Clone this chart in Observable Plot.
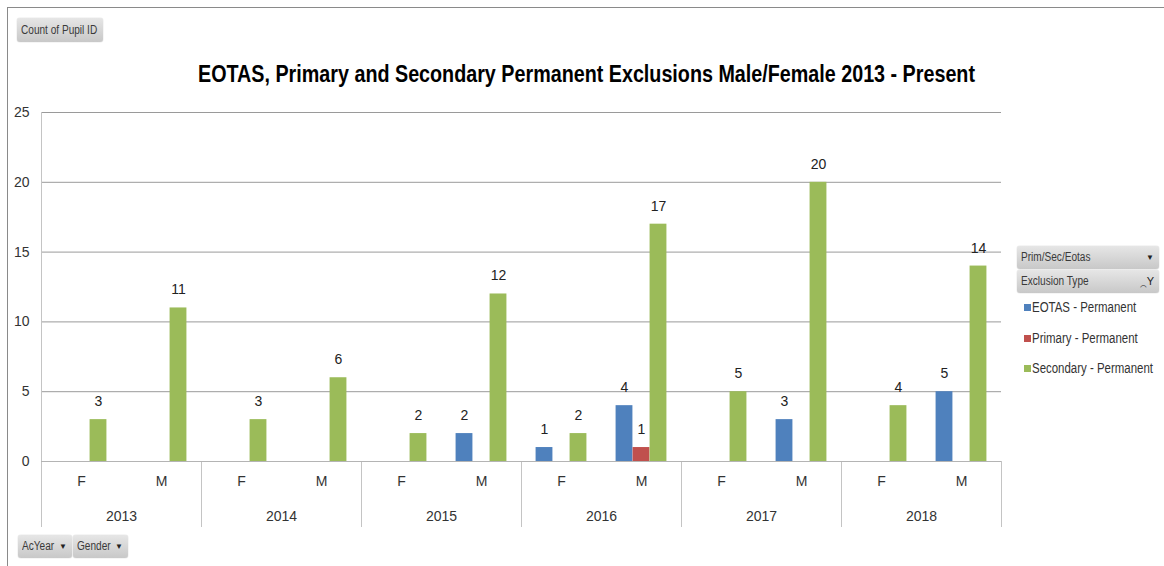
<!DOCTYPE html>
<html><head><meta charset="utf-8">
<script src="https://cdn.jsdelivr.net/npm/d3@7"></script>
<script src="https://cdn.jsdelivr.net/npm/@observablehq/plot@0.6"></script>
<style>
html,body{margin:0;padding:0;background:#fff;}
body{width:1164px;height:566px;overflow:hidden;position:relative;font-family:"Liberation Sans Narrow","Arial Narrow","Liberation Sans",sans-serif;color:#333;}
#border{position:absolute;left:7px;top:7px;width:1200px;height:600px;border-left:1.5px solid #8a8a8a;border-top:1.5px solid #8a8a8a;}
.btn{position:absolute;height:23px;line-height:23px;font-size:12px;color:#3a3a3a;background:linear-gradient(#e6e6e6,#c8c8c8);border-radius:3px;padding:0 4px;box-sizing:border-box;box-shadow:0 0 1px #9a9a9a;white-space:nowrap;}
.btn .t{display:inline-block;transform:scaleX(0.84);transform-origin:0 50%;}
.btn .dd{position:absolute;right:5px;top:0;font-size:8px;color:#222;}
#title{position:absolute;top:63px;left:198px;white-space:nowrap;font-weight:bold;font-size:23px;line-height:23px;color:#000;transform-origin:0 0;}
#chart{position:absolute;left:0;top:100px;}
.leg{position:absolute;left:1024px;font-size:14px;color:#333;white-space:nowrap;line-height:16px;}
.leg .t{display:inline-block;transform-origin:0 50%;}
.sw{display:inline-block;width:7px;height:7px;margin-right:1px;vertical-align:1px;}
</style>
</head>
<body>
<div id="border"></div>
<div class="btn" style="left:17px;top:18px;width:86px;height:24px;line-height:24px;"><span class="t">Count of Pupil ID</span></div>
<div id="title">EOTAS, Primary and Secondary Permanent Exclusions Male/Female 2013 - Present</div>
<div id="chart"></div>
<div class="btn" style="left:18px;top:535px;width:54px;"><span class="t">AcYear</span><span class="dd">▼</span></div>
<div class="btn" style="left:73px;top:535px;width:55px;"><span class="t">Gender</span><span class="dd">▼</span></div>
<div class="btn" style="left:1017px;top:246px;width:142px;"><span class="t">Prim/Sec/Eotas</span><span class="dd">▼</span></div>
<div class="btn" style="left:1017px;top:270px;width:142px;"><span class="t">Exclusion Type</span><span class="dd" style="font-size:11px;">⁔Y</span></div>
<div id="legend"></div>
<script>
// ---- data ----
const years = ["2013", "2014", "2015", "2016", "2017", "2018"];
const genders = ["F", "M"];
const series = ["EOTAS - Permanent", "Primary - Permanent", "Secondary - Permanent"];
const colors = ["#4F81BD", "#C0504D", "#9BBB59"];
// values per year, F then M
const eotas     = [null, null,  null, null,  null, 2,   1, 4,   null, 3,   null, 5];
const primary   = [null, null,  null, null,  null, null, null, 1, null, null, null, null];
const secondary = [3, 11,  3, 6,  2, 12,  2, 17,  5, 20,  4, 14];
const yTicks = [0, 5, 10, 15, 20, 25];

const seriesValues = [eotas, primary, secondary];
const rows = [];
years.forEach((yr, yi) => genders.forEach((g, gi) => {
  seriesValues.forEach((vals, si) => {
    const v = vals[yi * 2 + gi];
    if (v != null) rows.push({year: yr, gender: g, series: series[si], si, value: v});
  });
}));

// legend
const leg = document.getElementById("legend");
const legY = [299, 330, 360];
const legSpans = [];
series.forEach((s, i) => {
  const d = document.createElement("div");
  d.className = "leg";
  d.style.top = legY[i] + "px";
  d.innerHTML = `<span class="sw" style="background:${colors[i]}"></span><span class="t">${s}</span>`;
  leg.appendChild(d);
  legSpans.push(d.querySelector(".t"));
});
const legScale = 121 / legSpans[2].getBoundingClientRect().width;
legSpans.forEach(sp => sp.style.transform = `scaleX(${legScale})`);

// layout
const W = 1164, H = 440;
const mL = 40, mR = 162, mT = 12, mB = 79;
const bandW = (W - mL - mR) / (years.length * genders.length);
const barW = 17;
const offset = i => (i - 1) * barW;           // series offset inside a gender slot
const insL = i => (bandW - barW) / 2 + offset(i);
const insR = i => (bandW - barW) / 2 - offset(i);
const plotH = H - mT - mB;

const barMarks = series.flatMap((s, i) => {
  const data = rows.filter(r => r.si === i);
  return [
    Plot.barY(data, {fx: "year", x: "gender", y: "value", fill: colors[i], insetLeft: insL(i), insetRight: insR(i)}),
    Plot.text(data, {fx: "year", x: "gender", y: "value", text: d => String(d.value), dx: offset(i), dy: -18,
      fill: "#222", fontSize: 14})
  ];
});

const chart = Plot.plot({
  width: W, height: H,
  marginLeft: mL, marginRight: mR, marginTop: mT, marginBottom: mB,
  style: {fontFamily: '"Liberation Sans Narrow","Arial Narrow","Liberation Sans",sans-serif', fontSize: "14px", color: "#333", background: "transparent"},
  fx: {domain: years, padding: 0},
  x: {domain: genders, padding: 0},
  y: {domain: [0, 25]},
  marks: [
    Plot.gridY(yTicks, {stroke: "#9a9a9a", strokeOpacity: 1}),
    Plot.frame({anchor: "left", facet: "super", stroke: "#c4c4c4"}),
    Plot.frame({anchor: "left", insetTop: plotH, insetBottom: -65, stroke: "#c4c4c4"}),
    Plot.frame({anchor: "right", insetTop: plotH, insetBottom: -65, stroke: "#c4c4c4"}),
    Plot.ruleY([0], {stroke: "#b4b4b4"}),
    ...barMarks,
    Plot.axisY(yTicks, {tickSize: 0, tickPadding: 12, label: null, fontSize: 14, fill: "#333"}),
    Plot.axisX({tickSize: 0, tickPadding: 15, label: null, fontSize: 14, fill: "#333"}),
    Plot.axisFx({anchor: "bottom", tickSize: 0, tickPadding: 50, label: null, fontSize: 14, fill: "#333"})
  ]
});
document.getElementById("chart").appendChild(chart);

// fit title width to the reference span
const t = document.getElementById("title");
const tw = t.getBoundingClientRect().width;
t.style.transform = `scaleX(${777 / tw})`;
</script>
</body></html>
